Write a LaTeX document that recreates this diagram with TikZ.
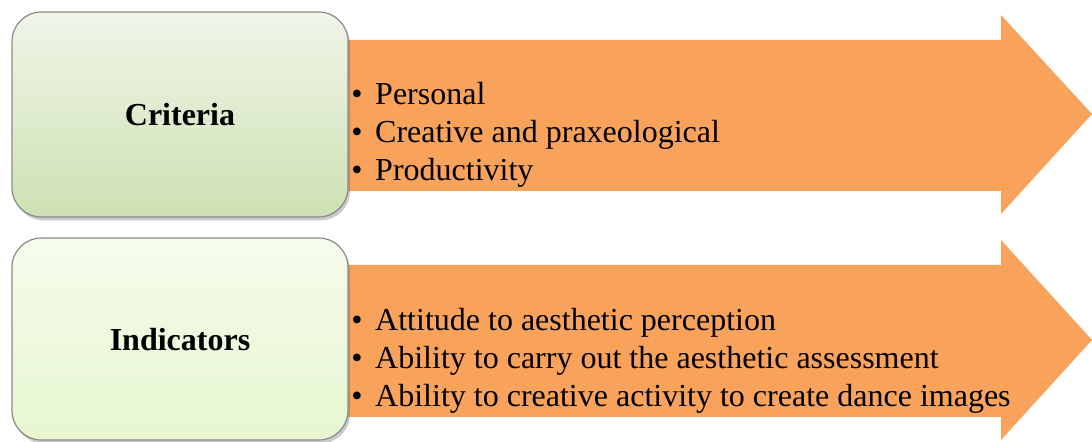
\documentclass[tikz,border=0pt]{standalone}
\usepackage{fontspec}
\setmainfont{Liberation Serif}
\usetikzlibrary{shadows}
\definecolor{arroworange}{HTML}{F8A25B}
\definecolor{topA}{HTML}{F0F5E9}
\definecolor{topB}{HTML}{CEE1B3}
\definecolor{botA}{HTML}{F5FCEC}
\definecolor{botB}{HTML}{E7F6D0}
\definecolor{boxedge}{HTML}{8A8A8A}
\tikzset{
  arrowshape/.style={fill=arroworange, draw=none},
  headbox/.style={draw=boxedge, line width=0.9pt, rounded corners=22pt,
    drop shadow={shadow xshift=1.5pt, shadow yshift=-2.5pt, opacity=0.35, fill=black!60}},
  headtext/.style={font=\fontsize{24}{28}\selectfont\bfseries, inner sep=0pt},
  listtext/.style={font=\fontsize{24}{28.5}\selectfont, align=left, anchor=base west, inner sep=0pt},
}
\newcommand{\bul}{\makebox[18pt][l]{\textbullet}}
\begin{document}
\begin{tikzpicture}[x=0.75pt,y=0.75pt]
\useasboundingbox (0,0) rectangle (1092,442);
% arrows
\fill[arrowshape] (340,402) -- (1001,402) -- (1001,427) -- (1092,328) -- (1001,228) -- (1001,251) -- (340,251) -- cycle;
\fill[arrowshape] (340,177) -- (1001,177) -- (1001,202) -- (1092,102) -- (1001,2) -- (1001,25) -- (340,25) -- cycle;
% boxes
\draw[headbox, top color=topA, bottom color=topB] (12,430) rectangle (348,225);
\draw[headbox, top color=botA, bottom color=botB] (12,204) rectangle (348,2);
\node[headtext] (crit) at (180,327) {Criteria};
\node[headtext] (ind) at (180,102) {Indicators};
% lists (base anchor = baseline of last line)
\node[listtext] (critlist) at (351,261) {\bul Personal\\ \bul Creative and praxeological\\ \bul Productivity};
\node[listtext] (indlist) at (351,35) {\bul Attitude to aesthetic perception\\ \bul Ability to carry out the aesthetic assessment\\ \bul Ability to creative activity to create dance images};
\end{tikzpicture}
\end{document}
